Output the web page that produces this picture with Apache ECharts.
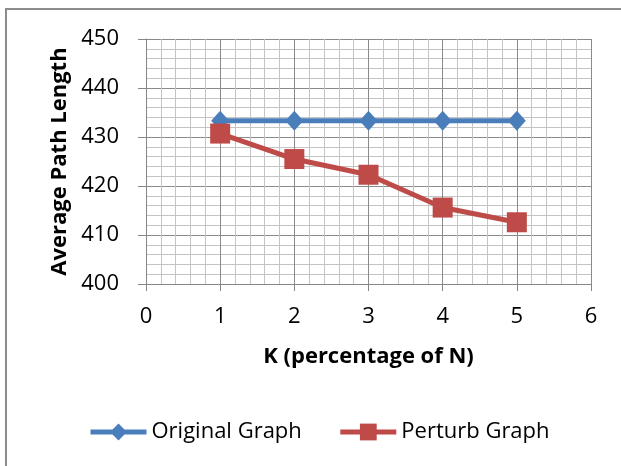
<!DOCTYPE html>
<html><head><meta charset="utf-8">
<script src="https://cdn.jsdelivr.net/npm/echarts@6/dist/echarts.min.js"></script>
<style>html,body{margin:0;padding:0;background:#fff}#c{width:621px;height:466px}</style>
</head><body><div id="c"></div>
<script>
var kValues = [1, 2, 3, 4, 5];
var originalGraph = [433.3, 433.3, 433.3, 433.3, 433.3];
var perturbGraph = [430.7, 425.5, 422.3, 415.6, 412.6];
var seriesNames = ['Original Graph', 'Perturb Graph'];
var xTitle = 'K (percentage of N)';
var yTitle = 'Average Path Length';

var FONT = '"Open Sans", "Noto Sans", sans-serif';
function pairs(xs, ys){ return xs.map(function(x,i){ return [x, ys[i]]; }); }

var chart = echarts.init(document.getElementById('c'), null, {renderer:'canvas'});
chart.setOption({
  animation:false,
  backgroundColor:'#fff',
  graphic:[{type:'rect', shape:{x:6, y:9, width:640, height:480}, style:{fill:'none', stroke:'#8c8c8c', lineWidth:2}, silent:true}],
  grid:{left:146, right:30, top:39, bottom:182, containLabel:false},
  legend:{
    top:421, left:88, padding:0, itemGap:36, itemWidth:56, itemHeight:21,
    lineStyle:{width:5},
    textStyle:{fontFamily:FONT, fontSize:22, color:'#000'},
    data:seriesNames
  },
  xAxis:{
    type:'value', min:0, max:6, interval:1,
    name:xTitle, nameLocation:'middle', nameGap:62,
    nameTextStyle:{fontFamily:FONT, fontSize:22, fontWeight:'bold', color:'#000'},
    axisLine:{show:true, lineStyle:{color:'#868686', width:1}},
    axisTick:{show:true, length:7, lineStyle:{color:'#868686'}},
    axisLabel:{fontFamily:FONT, fontSize:22, color:'#000', margin:22},
    splitLine:{show:true, lineStyle:{color:'#8a8a8a', width:1}},
    minorTick:{show:false, splitNumber:5},
    minorSplitLine:{show:true, lineStyle:{color:'#c4c4c4', width:1}}
  },
  yAxis:{
    type:'value', min:400, max:450, interval:10,
    name:yTitle, nameLocation:'middle', nameGap:75, nameRotate:90,
    nameTextStyle:{fontFamily:FONT, fontSize:22, fontWeight:'bold', color:'#000'},
    axisLine:{show:true, lineStyle:{color:'#868686', width:1}},
    axisTick:{show:true, length:8, lineStyle:{color:'#868686'}},
    axisLabel:{fontFamily:FONT, fontSize:22, color:'#000', margin:27},
    splitLine:{show:true, lineStyle:{color:'#8a8a8a', width:1}},
    minorTick:{show:false, splitNumber:5},
    minorSplitLine:{show:true, lineStyle:{color:'#c4c4c4', width:1}}
  },
  series:[
    {name:seriesNames[0], type:'line', data:pairs(kValues, originalGraph),
     symbol:'diamond', symbolSize:[18,20], color:'#4a7ebb',
     lineStyle:{width:5, color:'#4a7ebb'}, itemStyle:{color:'#4a7ebb'}},
    {name:seriesNames[1], type:'line', data:pairs(kValues, perturbGraph),
     symbol:'rect', symbolSize:20, color:'#be4b48',
     lineStyle:{width:5, color:'#be4b48'}, itemStyle:{color:'#be4b48'}}
  ]
});
</script></body></html>
